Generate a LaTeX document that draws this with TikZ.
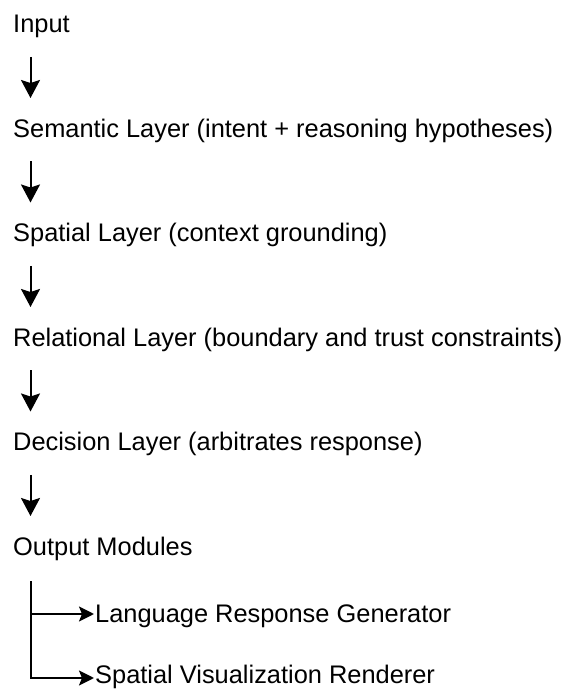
\documentclass[tikz,border=0pt]{standalone}
\usepackage{fontspec}
\setmainfont{Liberation Sans}
\usetikzlibrary{arrows.meta}

\tikzset{
  x=1pt, y=1pt,
  label/.style={anchor=base west, inner sep=0pt, font=\fontsize{25.4}{30}\selectfont},
  flow/.style={line width=2pt, -{Stealth[length=18pt,width=19pt,inset=3pt]}},
  branch/.style={line width=2pt, -{Stealth[length=15pt,width=15pt,inset=3pt]}}
}

\begin{document}
\begin{tikzpicture}
  \useasboundingbox (0,0) rectangle (576,689);

  % layer stack, top to bottom
  \node[label] (in)  at (13,656)   {Input};
  \node[label] (sem) at (13,551.5) {Semantic Layer (intent + reasoning hypotheses)};
  \node[label] (spa) at (13,447)   {Spatial Layer (context grounding)};
  \node[label] (rel) at (13,342.5) {Relational Layer (boundary and trust constraints)};
  \node[label] (dec) at (13,238)   {Decision Layer (arbitrates response)};
  \node[label] (out) at (13,133.5) {Output Modules};

  % output branches
  \node[label] (lang) at (95,66) {Language Response Generator};
  \node[label] (vis)  at (95,5.5) {Spatial Visualization Renderer};

  % downward arrows between layers
  \foreach \a/\b in {in/sem, sem/spa, spa/rel, rel/dec, dec/out}
    \draw[flow] ([shift={(17.5,-24)}]\a.base west) -- ([shift={(17.5,39.5)}]\b.base west);

  % branching connector to the output modules
  \coordinate (fork) at ([shift={(17.5,-26)}]out.base west);
  \draw[branch] (fork) |- ([shift={(-1,9)}]lang.base west);
  \draw[branch] (fork) |- ([shift={(-1,5.5)}]vis.base west);
\end{tikzpicture}
\end{document}
